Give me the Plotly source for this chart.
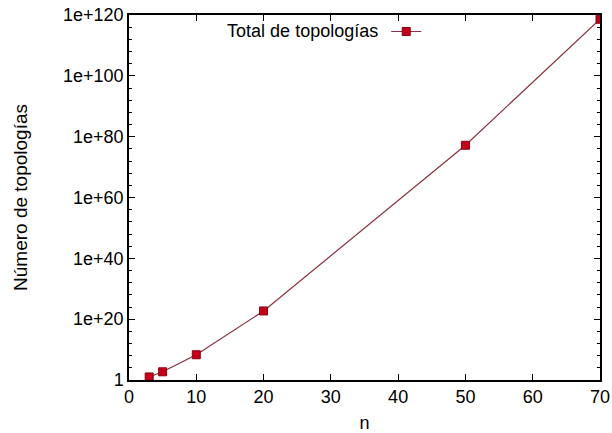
import plotly.graph_objects as go

n_values = [3, 5, 10, 20, 50, 70]
total_topologias = [10, 500, 2e8, 5e22, 1.5e77, 4e118]
series_name = "Total de topologías"
x_ticks = [0, 10, 20, 30, 40, 50, 60, 70]
y_exponents = [0, 20, 40, 60, 80, 100, 120]
y_ticklabels = ["1", "1e+20", "1e+40", "1e+60", "1e+80", "1e+100", "1e+120"]

font = dict(family="Liberation Sans, Arial, sans-serif", size=18, color="black")

fig = go.Figure()
fig.add_trace(go.Scatter(
    x=n_values, y=total_topologias, mode="lines+markers", name=" ",
    line=dict(color="#8a2f3c", width=1.2),
    marker=dict(symbol="square", size=8, color="#c40018",
                line=dict(color="#8a0012", width=1)),
))

minor_vals = [10.0 ** k for k in range(0, 121, 4) if k % 20 != 0]

fig.update_layout(
    width=612, height=433,
    margin=dict(l=129, r=12, t=15, b=53, autoexpand=False),
    paper_bgcolor="white", plot_bgcolor="white",
    font=font,
    showlegend=True,
    legend=dict(
        x=0.204, y=0.954, xanchor="left", yanchor="middle",
        bgcolor="rgba(0,0,0,0)",
        title=dict(text=series_name, side="left", font=font),
        font=font,
    ),
    xaxis=dict(
        range=[0, 70], tickvals=x_ticks, ticktext=[str(v) for v in x_ticks],
        showline=True, linecolor="black", linewidth=1.5, mirror="ticks",
        ticks="inside", ticklen=6, tickcolor="black",
        showgrid=False, zeroline=False, automargin=False,
        title=dict(text="n", font=font, standoff=16),
    ),
    yaxis=dict(
        type="log", range=[0, 120],
        tickvals=[10.0 ** e for e in y_exponents], ticktext=y_ticklabels,
        showline=True, linecolor="black", linewidth=1.5, mirror="ticks",
        ticks="inside", ticklen=6, tickcolor="black",
        minor=dict(tickvals=minor_vals, ticks="inside", ticklen=3, tickcolor="black"),
        showgrid=False, zeroline=False, automargin=False,
        title=dict(text="Número de topologías", font=dict(font, size=19), standoff=30),
    ),
)

fig.write_html("out.html")
